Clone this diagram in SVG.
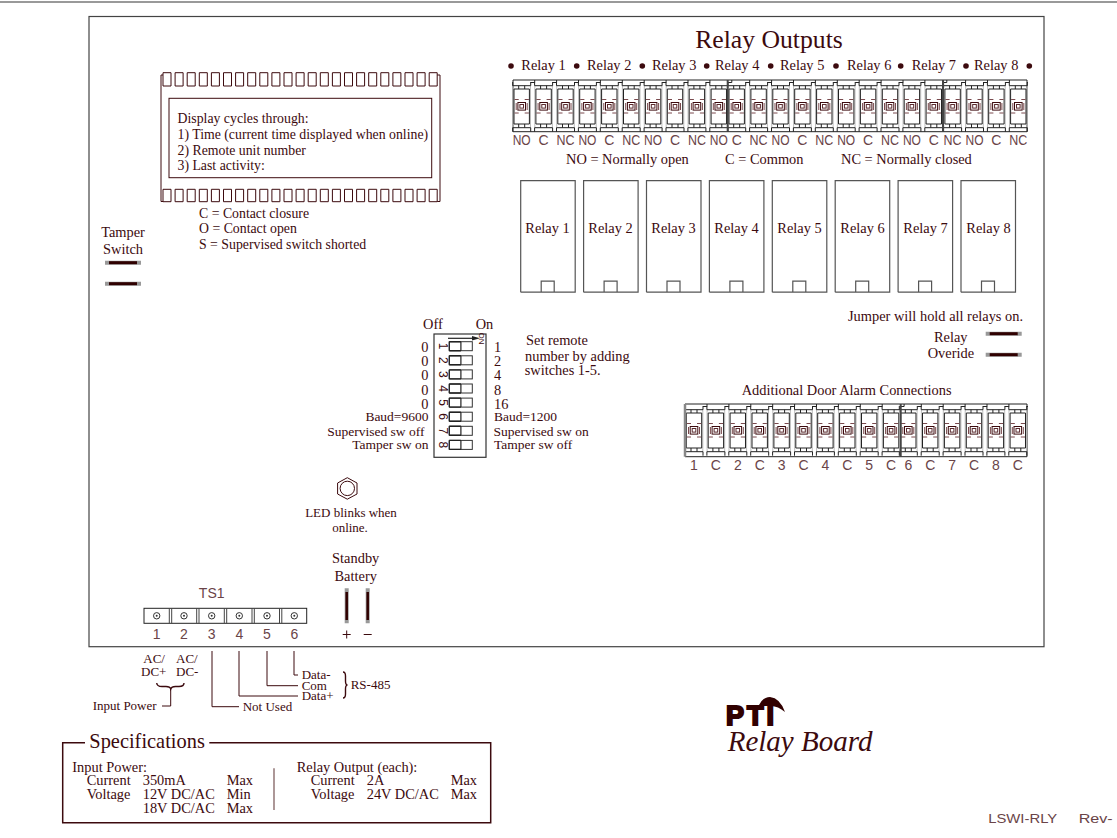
<svg xmlns="http://www.w3.org/2000/svg" width="1117" height="838" viewBox="0 0 1117 838">
<style>
text{font-family:"Liberation Serif","Times New Roman",serif;font-size:14.4px;fill:#3c0a0e}
.s{font-size:13px}
.d{font-size:13.5px}
.p{font-size:13.8px}
.c{text-anchor:middle}
.e{text-anchor:end}
.n{font-family:"Liberation Sans",Arial,sans-serif;font-size:14px;fill:#6a4448;text-anchor:middle}
.m{font-family:"Liberation Sans",Arial,sans-serif;font-size:12px;fill:#3c0a0e;text-anchor:middle}
.l{fill:none;stroke:#3c0a0e;stroke-width:1}
.k{fill:none;stroke:#222;stroke-width:1}
.b{fill:none;stroke:#3c0a0e;stroke-width:1.4}
.bar1{stroke:#999;stroke-width:4;fill:none}
.bar2{stroke:#300000;stroke-width:3;fill:none}
</style>
<defs>
<clipPath id="clipR"><rect x="512" y="79" width="516" height="54"/></clipPath>
<clipPath id="clipD"><rect x="684" y="403" width="344" height="55"/></clipPath>
<g id="cell">
<path d="M-8.8 85.7V127.700M8.8 85.7V127.700" fill="none" stroke="#bbb"/>
<path class="k" d="M-9 82V85.7H9V82M-7.7 89H7.7V124H-7.7ZM-3 85.7V89M3 85.7V89M-3 124V127.7M3 124V127.7M-9 131.7V127.7H9V131.7"/>
<path class="k" d="M9 82.5H13V80"/>
<path d="M-7.2 99.5H-3M3 99.5H7.2M-7.2 113H-3M3 113H7.2M-5.500 103V110M5.500 103V110" fill="none" stroke="#7a4a4e"/>
<rect x="-3.8" y="102.5" width="7.6" height="7.6" fill="none" stroke="#3c0a0e"/>
<rect x="-1.8" y="104.5" width="3.6" height="3.6" fill="none" stroke="#5a2a2e"/>
</g>
<g id="relaybox">
<path d="M0 111.5V0H54.5V111.5H0M20.5 111.5V100.5H33.5V111.5" fill="none" stroke="#555" stroke-width="1.2"/>
</g>
<g id="sw">
<rect x="0" y="0" width="23" height="9" fill="none" stroke="#333"/>
<path d="M0 0V9M11.6 0V9" stroke="#222" stroke-width="1.2"/>
<path d="M0 0H11.6M0 9H11.6" stroke="#222" stroke-width="1.4"/>
</g>
<g id="term">
<circle r="3.2" fill="none" stroke="#333"/><circle r="1" fill="#333"/>
</g>
<g id="hbar">
<path class="bar1" d="M105 0H141"/>
<path class="bar2" d="M109 0H137"/>
</g>
</defs>

<g id="frame">
<rect x="89" y="16.5" width="955" height="630.2" fill="none" stroke="#444" stroke-width="1.2"/>
<path d="M0 2H1117" fill="none" stroke="#777" stroke-width="1.5"/>
</g>

<g id="display">
<path class="l" d="M161 201.5V75H163M437.200 75H440V201.5H437.200M161 201.500H163"/>
<path class="l" d="M163 72.7h8v13.3h-8zM175.1 72.7h8v13.3h-8zM187.2 72.7h8v13.3h-8zM199.3 72.7h8v13.3h-8zM211.4 72.7h8v13.3h-8zM223.5 72.7h8v13.3h-8zM235.6 72.7h8v13.3h-8zM247.7 72.7h8v13.3h-8zM259.8 72.7h8v13.3h-8zM271.9 72.7h8v13.3h-8zM284 72.7h8v13.3h-8zM296.1 72.7h8v13.3h-8zM308.2 72.7h8v13.3h-8zM320.3 72.7h8v13.3h-8zM332.4 72.7h8v13.3h-8zM344.5 72.7h8v13.3h-8zM356.6 72.7h8v13.3h-8zM368.7 72.7h8v13.3h-8zM380.8 72.7h8v13.3h-8zM392.9 72.7h8v13.3h-8zM405 72.7h8v13.3h-8zM417.1 72.7h8v13.3h-8zM429.2 72.7h8v13.3h-8z"/>
<path class="l" d="M163 189.3h8v12.4h-8zM175.1 189.3h8v12.4h-8zM187.2 189.3h8v12.4h-8zM199.3 189.3h8v12.4h-8zM211.4 189.3h8v12.4h-8zM223.5 189.3h8v12.4h-8zM235.6 189.3h8v12.4h-8zM247.7 189.3h8v12.4h-8zM259.8 189.3h8v12.4h-8zM271.9 189.3h8v12.4h-8zM284 189.3h8v12.4h-8zM296.1 189.3h8v12.4h-8zM308.2 189.3h8v12.4h-8zM320.3 189.3h8v12.4h-8zM332.4 189.3h8v12.4h-8zM344.5 189.3h8v12.4h-8zM356.6 189.3h8v12.4h-8zM368.7 189.3h8v12.4h-8zM380.8 189.3h8v12.4h-8zM392.9 189.3h8v12.4h-8zM405 189.3h8v12.4h-8zM417.1 189.3h8v12.4h-8zM429.2 189.3h8v12.4h-8z"/>
<rect class="l" x="169" y="98.3" width="262.7" height="79.4"/>
<text class="p" x="177.500" y="123">Display cycles through:</text>
<text class="p" x="177.500" y="138.500">1) Time (current time displayed when online)</text>
<text class="p" x="177.500" y="154.500">2) Remote unit number</text>
<text class="p" x="177.500" y="170">3) Last activity:</text>
<text class="p" x="199" y="217.500">C = Contact closure</text>
<text class="p" x="199" y="233">O = Contact open</text>
<text class="p" x="199" y="248.500">S = Supervised switch shorted</text>
</g>

<g id="tamper">
<text x="123" y="237" class="c">Tamper</text>
<text x="123" y="254" class="c">Switch</text>
<use href="#hbar" y="262.7"/>
<use href="#hbar" y="283.7"/>
</g>

<g id="relay-outputs">
<text x="769" y="48" class="c" style="font-size:25.7px">Relay Outputs</text>
<g fill="#3c0a0e">
<circle cx="511" cy="66" r="2.8"/><circle cx="576.700" cy="66" r="2.8"/><circle cx="642.300" cy="66" r="2.8"/><circle cx="706.700" cy="66" r="2.8"/><circle cx="770.700" cy="66" r="2.8"/><circle cx="836" cy="66" r="2.8"/><circle cx="900.700" cy="66" r="2.8"/><circle cx="966" cy="66" r="2.8"/><circle cx="1029.300" cy="66" r="2.8"/>
</g>
<text x="521.300" y="70">Relay 1</text><text x="587" y="70">Relay 2</text><text x="652" y="70">Relay 3</text><text x="715" y="70">Relay 4</text><text x="780" y="70">Relay 5</text><text x="847" y="70">Relay 6</text><text x="911.700" y="70">Relay 7</text><text x="974" y="70">Relay 8</text>
<path class="k" d="M513 80H1027M513 131.700H1027M513 80V131.700M1027 80V131.700"/>
<g clip-path="url(#clipR)">
<use href="#cell" x="521.700"/><use href="#cell" x="543.600"/><use href="#cell" x="565.500"/><use href="#cell" x="587.400"/><use href="#cell" x="609.300"/><use href="#cell" x="631.200"/><use href="#cell" x="653.100"/><use href="#cell" x="675"/><use href="#cell" x="696.900"/><use href="#cell" x="718.800"/>
<use href="#cell" x="736.700"/><use href="#cell" x="758.600"/><use href="#cell" x="780.500"/><use href="#cell" x="802.400"/><use href="#cell" x="824.300"/><use href="#cell" x="846.200"/><use href="#cell" x="868.100"/><use href="#cell" x="890"/><use href="#cell" x="911.900"/><use href="#cell" x="933.800"/>
<use href="#cell" x="952.600"/><use href="#cell" x="974.500"/><use href="#cell" x="996.400"/><use href="#cell" x="1018.300"/>
</g>
<path d="M727.700 80V131.700M943 80V131.700" stroke="#444" stroke-width="2"/>
<g>
<text class="n" x="521.700" y="145" textLength="18" lengthAdjust="spacingAndGlyphs">NO</text><text class="n" x="543.600" y="145">C</text><text class="n" x="565.500" y="145" textLength="18" lengthAdjust="spacingAndGlyphs">NC</text>
<text class="n" x="587.400" y="145" textLength="18" lengthAdjust="spacingAndGlyphs">NO</text><text class="n" x="609.300" y="145">C</text><text class="n" x="631.200" y="145" textLength="18" lengthAdjust="spacingAndGlyphs">NC</text>
<text class="n" x="653.100" y="145" textLength="18" lengthAdjust="spacingAndGlyphs">NO</text><text class="n" x="675" y="145">C</text><text class="n" x="696.900" y="145" textLength="18" lengthAdjust="spacingAndGlyphs">NC</text>
<text class="n" x="718.800" y="145" textLength="18" lengthAdjust="spacingAndGlyphs">NO</text><text class="n" x="736.700" y="145">C</text><text class="n" x="758.600" y="145" textLength="18" lengthAdjust="spacingAndGlyphs">NC</text>
<text class="n" x="780.500" y="145" textLength="18" lengthAdjust="spacingAndGlyphs">NO</text><text class="n" x="802.400" y="145">C</text><text class="n" x="824.300" y="145" textLength="18" lengthAdjust="spacingAndGlyphs">NC</text>
<text class="n" x="846.200" y="145" textLength="18" lengthAdjust="spacingAndGlyphs">NO</text><text class="n" x="868.100" y="145">C</text><text class="n" x="890" y="145" textLength="18" lengthAdjust="spacingAndGlyphs">NC</text>
<text class="n" x="911.900" y="145" textLength="18" lengthAdjust="spacingAndGlyphs">NO</text><text class="n" x="933.800" y="145">C</text><text class="n" x="952.600" y="145" textLength="18" lengthAdjust="spacingAndGlyphs">NC</text>
<text class="n" x="974.500" y="145" textLength="18" lengthAdjust="spacingAndGlyphs">NO</text><text class="n" x="996.400" y="145">C</text><text class="n" x="1018.300" y="145" textLength="18" lengthAdjust="spacingAndGlyphs">NC</text>
</g>
<text x="566" y="164">NO = Normally open</text>
<text x="725" y="164">C = Common</text>
<text x="841" y="164">NC = Normally closed</text>
</g>

<g id="relays">
<use href="#relaybox" x="520.700" y="180.700"/><use href="#relaybox" x="583.600" y="180.700"/><use href="#relaybox" x="646.500" y="180.700"/><use href="#relaybox" x="709.400" y="180.700"/><use href="#relaybox" x="772.300" y="180.700"/><use href="#relaybox" x="835.200" y="180.700"/><use href="#relaybox" x="898.100" y="180.700"/><use href="#relaybox" x="961" y="180.700"/>
<text class="c" x="547.500" y="233">Relay 1</text><text class="c" x="610.500" y="233">Relay 2</text><text class="c" x="673.500" y="233">Relay 3</text><text class="c" x="736.500" y="233">Relay 4</text><text class="c" x="799.500" y="233">Relay 5</text><text class="c" x="862.500" y="233">Relay 6</text><text class="c" x="925.500" y="233">Relay 7</text><text class="c" x="988.500" y="233">Relay 8</text>
</g>

<g id="override">
<text x="848" y="320.700">Jumper will hold all relays on.</text>
<text x="934" y="342">Relay</text>
<text x="927.700" y="358.300">Overide</text>
<use href="#hbar" x="880.700" y="333.700"/>
<use href="#hbar" x="880.700" y="354.700"/>
</g>

<g id="dip">
<text x="423" y="329">Off</text><text x="475.700" y="329">On</text>
<rect x="434" y="334" width="52" height="123.300" fill="none" stroke="#333" stroke-width="1.2"/>
<path d="M448 338.300H474" stroke="#222" stroke-width="1.200"/><path d="M480 338.300L472 336V340.600Z" fill="#222"/>
<text class="m" style="font-size:8px" transform="translate(478.500 338.500) rotate(90)">ON</text>
<use href="#sw" x="449.300" y="341.700"/><use href="#sw" x="449.300" y="355.800"/><use href="#sw" x="449.300" y="369.900"/><use href="#sw" x="449.300" y="384"/><use href="#sw" x="449.300" y="398.100"/><use href="#sw" x="449.300" y="412.200"/><use href="#sw" x="449.300" y="426.300"/><use href="#sw" x="449.300" y="440.400"/>
<text class="m" transform="translate(439 346.200) rotate(90)">1</text>
<text class="m" transform="translate(439 360.300) rotate(90)">2</text>
<text class="m" transform="translate(439 374.400) rotate(90)">3</text>
<text class="m" transform="translate(439 388.500) rotate(90)">4</text>
<text class="m" transform="translate(439 402.600) rotate(90)">5</text>
<text class="m" transform="translate(439 416.700) rotate(90)">6</text>
<text class="m" transform="translate(439 430.800) rotate(90)">7</text>
<text class="m" transform="translate(439 444.900) rotate(90)">8</text>
<text class="e" x="428.500" y="352">0</text><text class="e" x="428.500" y="366">0</text><text class="e" x="428.500" y="380">0</text><text class="e" x="428.500" y="394.500">0</text><text class="e" x="428.500" y="408.500">0</text>
<text class="e d" x="428.500" y="421">Baud=9600</text><text class="e d" x="424.500" y="436">Supervised sw off</text><text class="e d" x="428.500" y="449.300">Tamper sw on</text>
<text x="494" y="352">1</text><text x="494" y="366">2</text><text x="494" y="380">4</text><text x="494" y="394.500">8</text><text x="494" y="408.500">16</text>
<text class="d" x="494" y="421">Baud=1200</text><text class="d" x="493.500" y="436">Supervised sw on</text><text class="d" x="494" y="449.300">Tamper sw off</text>
<text x="526" y="345">Set remote</text><text x="525" y="360.700">number by adding</text><text x="524.700" y="375">switches 1-5.</text>
</g>

<g id="led">
<path d="M347.300 477.700L357 483V494L347.300 499.200L337.600 494V483Z" fill="none" stroke="#3c0a0e"/>
<circle cx="347.300" cy="488.400" r="7.200" fill="none" stroke="#3c0a0e"/>
<text class="c s" x="351" y="516.500">LED blinks when</text>
<text class="c s" x="350" y="532">online.</text>
</g>

<g id="door-alarm">
<text x="741.700" y="395">Additional Door Alarm Connections</text>
<path d="M685 404H1027M685 456.700H1027M1027 404V456.700" stroke="#222" fill="none"/>
<g clip-path="url(#clipD)"><g transform="translate(0 324)">
<use href="#cell" x="694"/><use href="#cell" x="715.900"/><use href="#cell" x="737.800"/><use href="#cell" x="759.700"/><use href="#cell" x="781.600"/><use href="#cell" x="803.500"/><use href="#cell" x="825.400"/><use href="#cell" x="847.300"/><use href="#cell" x="869.200"/><use href="#cell" x="891.100"/>
<use href="#cell" x="908.300"/><use href="#cell" x="930.200"/><use href="#cell" x="952.100"/><use href="#cell" x="974"/><use href="#cell" x="995.900"/><use href="#cell" x="1017.800"/>
</g></g>
<path d="M685 404V456.700" stroke="#888" stroke-width="2.500"/>
<path d="M900.700 404V456.700" stroke="#444" stroke-width="2"/>
<text class="n" x="694" y="469.500">1</text><text class="n" x="715.900" y="469.500">C</text><text class="n" x="737.800" y="469.500">2</text><text class="n" x="759.700" y="469.500">C</text><text class="n" x="781.600" y="469.500">3</text><text class="n" x="803.500" y="469.500">C</text><text class="n" x="825.400" y="469.500">4</text><text class="n" x="847.300" y="469.500">C</text><text class="n" x="869.200" y="469.500">5</text><text class="n" x="891.100" y="469.500">C</text><text class="n" x="908.300" y="469.500">6</text><text class="n" x="930.200" y="469.500">C</text><text class="n" x="952.100" y="469.500">7</text><text class="n" x="974" y="469.500">C</text><text class="n" x="995.900" y="469.500">8</text><text class="n" x="1017.800" y="469.500">C</text>
</g>

<g id="ts1">
<text class="n" x="211.700" y="597.700">TS1</text>
<rect x="144" y="608.300" width="162.700" height="15" fill="none" stroke="#222"/>
<path d="M169.300 608.300V623.300M171.700 608.300V623.300M196.700 608.300V623.300M199 608.300V623.300M224.300 608.300V623.300M226.700 608.300V623.300M252 608.300V623.300M254.300 608.300V623.300M279.500 608.300V623.300M281.800 608.300V623.300" stroke="#444" fill="none"/>
<use href="#term" x="156.700" y="615.800"/><use href="#term" x="184" y="615.800"/><use href="#term" x="211.700" y="615.800"/><use href="#term" x="239.300" y="615.800"/><use href="#term" x="267" y="615.800"/><use href="#term" x="294.300" y="615.800"/>
<text class="n" x="156.700" y="639">1</text><text class="n" x="184" y="639">2</text><text class="n" x="211.700" y="639">3</text><text class="n" x="239.300" y="639">4</text><text class="n" x="267" y="639">5</text><text class="n" x="294.300" y="639">6</text>
</g>

<g id="battery">
<text class="c" x="355.700" y="563">Standby</text><text class="c" x="355.700" y="580.700">Battery</text>
<path class="bar1" d="M346.700 588.300V623.300M367.700 588.300V623.300"/>
<path class="bar2" d="M346.700 592V620M367.700 592V620" style="stroke-width:2.500"/>
<path d="M342.700 634.500H350.700M346.700 630.500V638.500M363.700 634.500H371.700" stroke="#3c0a0e" fill="none"/>
</g>

<g id="connectors">
<path class="l" d="M212 651V706.700H239M239 651V696H298M267 651V685.700H298M294 651V675H298M170.700 688V706H162"/>
<path class="b" d="M156.700 683Q157 686.500 162 686.500H166Q170 686.500 170.700 689Q171.500 686.500 175.500 686.500H179Q184 686.500 184 683"/>
<path class="b" d="M343 672Q345.500 672 345.500 676V681Q345.500 685 347.500 685Q345.500 685 345.500 689V694Q345.500 698 343 698"/>
</g>

<g id="wiring-labels">
<text class="s" x="143.300" y="663">AC/</text><text class="s" x="141" y="676">DC+</text><text class="s" x="176" y="663">AC/</text><text class="s" x="176" y="676">DC-</text>
<text class="s" x="92.700" y="710">Input Power</text>
<text class="s" x="242.700" y="710.700">Not Used</text>
<text class="s" x="301.700" y="678.700">Data-</text><text class="s" x="301.700" y="690">Com</text><text class="s" x="301.700" y="699.500">Data+</text>
<text class="s" x="350.700" y="689.300">RS-485</text>
</g>

<g id="specifications">
<path d="M85 742.700H62.700V822.700H490.700V742.700H209.300" fill="none" stroke="#3c0a0e" stroke-width="1.500"/>
<text x="89.300" y="748.300" style="font-size:20.400px">Specifications</text>
<text x="72.300" y="771.700">Input Power:</text>
<text x="86.700" y="785">Current</text><text x="142.700" y="785">350mA</text><text x="226.700" y="785">Max</text>
<text x="86.700" y="799">Voltage</text><text x="142.700" y="799">12V DC/AC</text><text x="226.700" y="799">Min</text>
<text x="142.700" y="812.700">18V DC/AC</text><text x="226.700" y="812.700">Max</text>
<path d="M274 768.300V810" stroke="#806060" stroke-width="1.300"/>
<text x="296.700" y="771.700">Relay Output (each):</text>
<text x="310.700" y="785">Current</text><text x="366.700" y="785">2A</text><text x="450.700" y="785">Max</text>
<text x="310.700" y="799">Voltage</text><text x="366.700" y="799">24V DC/AC</text><text x="450.700" y="799">Max</text>
</g>

<g id="title-block">
<text x="726" y="725" textLength="48" style="font-family:'Liberation Sans',Arial,sans-serif;font-size:27px;font-weight:bold;fill:#300000;stroke:#300000;stroke-width:2">PTI</text>
<path d="M759 705Q763 697 770 697Q780 698 785 712Q778 706 771 706H759Z" fill="#300000"/>
<text x="727.700" y="750.700" style="font-size:29px;font-style:italic">Relay Board</text>
<text class="n" x="1022.700" y="822.700" style="font-size:13px" textLength="69" lengthAdjust="spacingAndGlyphs">LSWI-RLY</text>
<text class="n" x="1095.700" y="822.700" style="font-size:13px" textLength="34" lengthAdjust="spacingAndGlyphs">Rev-</text>
</g>
</svg>
